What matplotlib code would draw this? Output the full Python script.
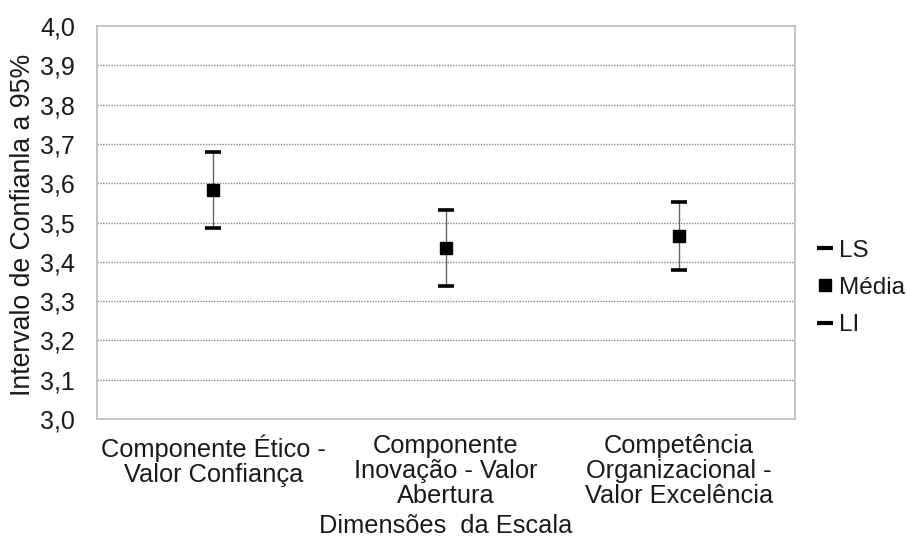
import matplotlib
matplotlib.use("Agg")
import matplotlib.pyplot as plt
from matplotlib.lines import Line2D

plt.rcParams['font.family'] = ['Liberation Sans', 'DejaVu Sans']

categories = [
    "Componente Ético -\nValor Confiança",
    "Componente\nInovação - Valor\nAbertura",
    "Competência\nOrganizacional -\nValor Excelência",
]
ls_values = [3.679, 3.532, 3.553]
mean_values = [3.582, 3.434, 3.466]
li_values = [3.486, 3.338, 3.379]
y_ticks = [3.0, 3.1, 3.2, 3.3, 3.4, 3.5, 3.6, 3.7, 3.8, 3.9, 4.0]

TEXT = '#1a1a1a'

fig = plt.figure(figsize=(9.07, 5.51), dpi=100)
ax = fig.add_axes([97 / 907, 1 - 419 / 551, (795 - 97) / 907, (419 - 26) / 551])

x = list(range(len(categories)))

# interval whiskers with black caps and the mean as a square
ax.vlines(x, li_values, ls_values, color='#666666', lw=1.0, zorder=3)
ax.plot(x, ls_values, ls='none', marker='_', ms=11, mew=2.6, color='black', zorder=4)
ax.plot(x, li_values, ls='none', marker='_', ms=11, mew=2.6, color='black', zorder=4)
ax.plot(x, mean_values, ls='none', marker='s', ms=8, color='black', zorder=5)

ax.set_xlim(-0.5, len(categories) - 0.5)
ax.set_ylim(3.0, 4.0)
ax.set_yticks(y_ticks)
ax.set_yticklabels([f"{v:.1f}".replace('.', ',') for v in y_ticks], fontsize=18, color=TEXT)
ax.set_xticks(x)
ax.set_xticklabels(categories, fontsize=18.3, color=TEXT, linespacing=1.05, va='top')
ax.tick_params(axis='y', length=0, pad=16)
ax.tick_params(axis='x', length=0, pad=11)

for t in y_ticks[1:-1]:
    ax.axhline(t, color='#888888', lw=1.0, ls=(0, (1, 1)), zorder=1)

for s in ax.spines.values():
    s.set_color('#bbbbbb')
    s.set_linewidth(1.2)

fig.text(23 / 907, 1 - 225 / 551, "Intervalo de Confianla a 95%", fontsize=19.2,
         color=TEXT, rotation=90, ha='center', va='center')
fig.text((97 + 795) / 2 / 907, 1 - 526 / 551, "Dimensões  da Escala", fontsize=18.3,
         color=TEXT, ha='center', va='center')

handles = [
    Line2D([], [], ls='none', marker='_', ms=12, mew=3, color='black'),
    Line2D([], [], ls='none', marker='s', ms=8, color='black'),
    Line2D([], [], ls='none', marker='_', ms=12, mew=3, color='black'),
]
fig.legend(handles, ["LS", "Média", "LI"], loc='center left',
           bbox_to_anchor=(816 / 907, 1 - 288 / 551), frameon=False,
           fontsize=17.5, handlelength=0.7, handletextpad=0.25, labelspacing=0.62,
           labelcolor=TEXT, borderpad=0, borderaxespad=0)

fig.savefig("out.png", dpi=100)
